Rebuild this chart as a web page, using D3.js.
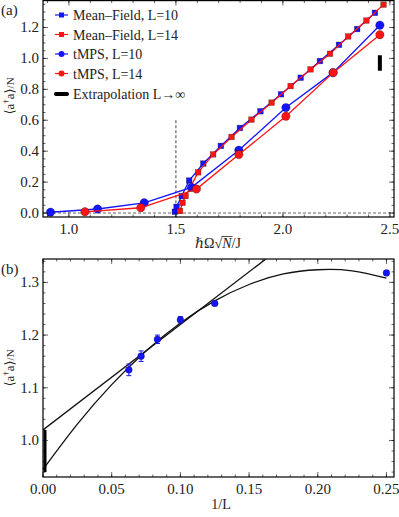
<!DOCTYPE html>
<html>
<head>
<meta charset="utf-8">
<script src="https://cdn.jsdelivr.net/npm/d3@7"></script>
<style>
  html, body { margin: 0; padding: 0; background: #fff; }
  svg { display: block; font-family: "Liberation Serif", "DejaVu Serif", serif; }
</style>
</head>
<body>
<div id="chart"></div>
<script>
// ---- panel (a) data ----
const mfL10X = [1.495, 1.503, 1.527, 1.562, 1.628, 1.710, 1.799, 1.895, 1.991, 2.083, 2.173, 2.262, 2.347, 2.430];
const mfL10Y = [0.008, 0.040, 0.110, 0.210, 0.320, 0.434, 0.550, 0.658, 0.768, 0.875, 0.983, 1.088, 1.190, 1.295];
const mfL14X = [1.519, 1.531, 1.545, 1.604, 1.674, 1.760, 1.853, 1.947, 2.036, 2.129, 2.220, 2.305, 2.390, 2.470];
const mfL14Y = [0.013, 0.066, 0.110, 0.263, 0.379, 0.492, 0.604, 0.714, 0.821, 0.929, 1.030, 1.142, 1.245, 1.348];
const tmpsL10X = [0.914, 1.134, 1.352, 1.573, 1.794, 2.014, 2.234, 2.453];
const tmpsL10Y = [0.005, 0.026, 0.066, 0.166, 0.406, 0.682, 0.908, 1.215];
const tmpsL14X = [1.075, 1.336, 1.596, 1.794, 2.014, 2.235, 2.453];
const tmpsL14Y = [0.008, 0.034, 0.155, 0.378, 0.626, 0.908, 1.153];
const extrapA = { x: 2.453, lo: 0.92, hi: 1.02 };
const criticalX = 1.5;
const criticalTop = 0.6;

const xTicksA = [1.0, 1.5, 2.0, 2.5];
const yTicksA = [0.0, 0.2, 0.4, 0.6, 0.8, 1.0, 1.2];

const legendLabels = ['Mean\u2013Field, L=10', 'Mean\u2013Field, L=14', 'tMPS, L=10', 'tMPS, L=14', 'Extrapolation L\u2192\u221E'];

// ---- panel (b) data ----
const invL = [0.0625, 0.0714, 0.0833, 0.1, 0.125, 0.25];
const occB = [1.134, 1.160, 1.192, 1.229, 1.260, 1.318];
const errB = [0.011, 0.010, 0.008, 0.006, 0.0, 0.0];
const linFitX = [0, 0.162];
const linFitY = [1.02, 1.344];
const quadFitX = [0, 0.025, 0.05, 0.075, 0.1, 0.125, 0.15, 0.175, 0.2, 0.225, 0.25];
const quadFitY = [0.945, 1.031, 1.106, 1.170, 1.223, 1.265, 1.296, 1.316, 1.324, 1.322, 1.308];
const extrapB = { x: 0.0, lo: 0.94, hi: 1.02 };

const xTicksB = [0.00, 0.05, 0.10, 0.15, 0.20, 0.25];
const yTicksB = [1.0, 1.1, 1.2, 1.3];

const BLUE = '#1414ff';
const RED = '#ff1414';

const width = 399;
const height = 517;

const svg = d3.select('#chart').append('svg')
    .attr('width', width)
    .attr('height', height);

const defs = svg.append('defs');

function zip(xs, ys) {
    return xs.map((x, i) => [x, ys[i]]);
}

function drawFrame(g, x, y, xMajor, yMajor, xMinorStep, yMinorStep, fmtX, fmtY) {
    const [x0, x1] = x.range();
    const [y0, y1] = y.range();

    const xMinor = d3.range(Math.ceil(x.domain()[0] / xMinorStep), Math.floor(x.domain()[1] / xMinorStep) + 1)
        .map((k) => k * xMinorStep);
    const yMinor = d3.range(Math.ceil(y.domain()[0] / yMinorStep), Math.floor(y.domain()[1] / yMinorStep) + 1)
        .map((k) => k * yMinorStep);

    const ticks = g.append('g').attr('stroke', '#000').attr('stroke-width', 0.6);

    xMinor.forEach((v) => {
        const px = x(v);
        ticks.append('line').attr('x1', px).attr('x2', px).attr('y1', y0).attr('y2', y0 - 2.5);
        ticks.append('line').attr('x1', px).attr('x2', px).attr('y1', y1).attr('y2', y1 + 2.5);
    });
    xMajor.forEach((v) => {
        const px = x(v);
        ticks.append('line').attr('x1', px).attr('x2', px).attr('y1', y0).attr('y2', y0 - 5);
        ticks.append('line').attr('x1', px).attr('x2', px).attr('y1', y1).attr('y2', y1 + 5);
    });
    yMinor.forEach((v) => {
        const py = y(v);
        ticks.append('line').attr('x1', x0).attr('x2', x0 + 2.5).attr('y1', py).attr('y2', py);
        ticks.append('line').attr('x1', x1).attr('x2', x1 - 2.5).attr('y1', py).attr('y2', py);
    });
    yMajor.forEach((v) => {
        const py = y(v);
        ticks.append('line').attr('x1', x0).attr('x2', x0 + 5).attr('y1', py).attr('y2', py);
        ticks.append('line').attr('x1', x1).attr('x2', x1 - 5).attr('y1', py).attr('y2', py);
    });

    g.append('rect')
        .attr('x', x0)
        .attr('y', y1)
        .attr('width', x1 - x0)
        .attr('height', y0 - y1)
        .attr('fill', 'none')
        .attr('stroke', '#000')
        .attr('stroke-width', 1.2);

    g.selectAll('.xlab')
        .data(xMajor)
        .enter()
        .append('text')
        .attr('x', (d) => x(d))
        .attr('y', y0 + 17)
        .attr('text-anchor', 'middle')
        .attr('font-size', 15)
        .attr('fill', '#222')
        .text(fmtX);

    g.selectAll('.ylab')
        .data(yMajor)
        .enter()
        .append('text')
        .attr('x', x0 - 4)
        .attr('y', (d) => y(d) + 5)
        .attr('text-anchor', 'end')
        .attr('font-size', 15)
        .attr('fill', '#222')
        .text(fmtY);
}

function yLabel(g, cx, cy) {
    const t = g.append('text')
        .attr('transform', `translate(${cx},${cy}) rotate(-90)`)
        .attr('text-anchor', 'middle')
        .attr('font-size', 13)
        .attr('fill', '#222');
    t.append('tspan').text('\u27E8a');
    t.append('tspan').attr('font-size', 9).attr('dy', -5).text('\u2020');
    t.append('tspan').attr('dy', 5).text('a\u27E9');
    t.append('tspan').attr('font-size', 11).text('/N');
}

function square(g, x, y, data, color, size) {
    g.selectAll(null)
        .data(data)
        .enter()
        .append('rect')
        .attr('x', (d) => x(d[0]) - size / 2)
        .attr('y', (d) => y(d[1]) - size / 2)
        .attr('width', size)
        .attr('height', size)
        .attr('fill', color)
        .attr('stroke', 'rgba(0,0,0,0.45)')
        .attr('stroke-width', 0.6);
}

function circle(g, x, y, data, color, r) {
    g.selectAll(null)
        .data(data)
        .enter()
        .append('circle')
        .attr('cx', (d) => x(d[0]))
        .attr('cy', (d) => y(d[1]))
        .attr('r', r)
        .attr('fill', color)
        .attr('stroke', 'rgba(0,0,0,0.45)')
        .attr('stroke-width', 0.6);
}

// ================= panel (a) =================
const xA = d3.scaleLinear().domain([0.879, 2.519]).range([43, 394]);
const yA = d3.scaleLinear().domain([-0.0258, 1.374]).range([217, 0.6]);

defs.append('clipPath').attr('id', 'clip-a')
    .append('rect').attr('x', 43).attr('y', 0.6).attr('width', 351).attr('height', 216.4);

const gA = svg.append('g');
const plotA = gA.append('g').attr('clip-path', 'url(#clip-a)');

plotA.append('line')
    .attr('x1', xA.range()[0]).attr('x2', xA.range()[1])
    .attr('y1', yA(0)).attr('y2', yA(0))
    .attr('stroke', '#666').attr('stroke-width', 1).attr('stroke-dasharray', '3,2');

plotA.append('line')
    .attr('x1', xA(criticalX)).attr('x2', xA(criticalX))
    .attr('y1', yA(criticalTop)).attr('y2', yA.range()[0])
    .attr('stroke', '#444').attr('stroke-width', 1).attr('stroke-dasharray', '3,2');

const lineA = d3.line().x((d) => xA(d[0])).y((d) => yA(d[1]));

const seriesA = [
    { data: zip(mfL10X, mfL10Y), color: BLUE, shape: 'square' },
    { data: zip(mfL14X, mfL14Y), color: RED, shape: 'square' },
    { data: zip(tmpsL10X, tmpsL10Y), color: BLUE, shape: 'circle' },
    { data: zip(tmpsL14X, tmpsL14Y), color: RED, shape: 'circle' },
];

seriesA.forEach((s) => {
    plotA.append('path')
        .attr('d', lineA(s.data))
        .attr('fill', 'none')
        .attr('stroke', s.color)
        .attr('stroke-width', 1.3);
    if (s.shape === 'square') {
        square(plotA, xA, yA, s.data, s.color, 5.6);
    } else {
        circle(plotA, xA, yA, s.data, s.color, 4.2);
    }
});

plotA.append('line')
    .attr('x1', xA(extrapA.x)).attr('x2', xA(extrapA.x))
    .attr('y1', yA(extrapA.lo)).attr('y2', yA(extrapA.hi))
    .attr('stroke', '#000').attr('stroke-width', 4);

drawFrame(gA, xA, yA, xTicksA, yTicksA, 0.1, 0.05, d3.format('.1f'), d3.format('.1f'));

// legend
const legend = gA.append('g');
const legendY = [15, 34.5, 54, 73.5, 94];
legendLabels.forEach((label, i) => {
    const row = legend.append('g').attr('transform', `translate(0, ${legendY[i]})`);
    if (i < 4) {
        const color = i % 2 === 0 ? BLUE : RED;
        row.append('line')
            .attr('x1', 55).attr('x2', 68).attr('y1', 0).attr('y2', 0)
            .attr('stroke', color).attr('stroke-width', 1.2);
        if (i < 2) {
            row.append('rect')
                .attr('x', 59).attr('y', -2.5).attr('width', 5).attr('height', 5)
                .attr('fill', color);
        } else {
            row.append('circle')
                .attr('cx', 61.5).attr('cy', 0).attr('r', 3)
                .attr('fill', color);
        }
    } else {
        row.append('line')
            .attr('x1', 56).attr('x2', 67).attr('y1', 0).attr('y2', 0)
            .attr('stroke', '#000').attr('stroke-width', 4).attr('stroke-linecap', 'round');
    }
    row.append('text')
        .attr('x', 73)
        .attr('y', 5)
        .attr('font-size', 14)
        .attr('fill', '#222')
        .text(label);
});

gA.append('text')
    .attr('x', 1).attr('y', 15)
    .attr('font-size', 15).attr('fill', '#222')
    .text('(a)');

yLabel(gA, 14, 96);

// x label: ħΩ√N/J with a bar over N
const xlabA = gA.append('text')
    .attr('x', 218).attr('y', 248)
    .attr('text-anchor', 'middle')
    .attr('font-size', 14)
    .attr('fill', '#222');
xlabA.append('tspan').text('\u210F\u03A9\u221A');
const nSpan = xlabA.append('tspan').attr('font-style', 'italic').text('N');
xlabA.append('tspan').text('/J');
const start = xlabA.node().getStartPositionOfChar(3);
const end = xlabA.node().getEndPositionOfChar(3);
const root = xlabA.node().getStartPositionOfChar(2);
gA.append('line')
    .attr('x1', root.x + 7).attr('x2', end.x + 1)
    .attr('y1', 236.5).attr('y2', 236.5)
    .attr('stroke', '#222').attr('stroke-width', 0.8);

// ================= panel (b) =================
const xB = d3.scaleLinear().domain([0, 0.2555]).range([43, 394]);
const yB = d3.scaleLinear().domain([0.9307, 1.3444]).range([477, 259]);

defs.append('clipPath').attr('id', 'clip-b')
    .append('rect').attr('x', 43).attr('y', 259).attr('width', 351).attr('height', 218);

const gB = svg.append('g');
const plotB = gB.append('g').attr('clip-path', 'url(#clip-b)');

const lineB = d3.line().x((d) => xB(d[0])).y((d) => yB(d[1]));

plotB.append('path')
    .attr('d', lineB(zip(linFitX, linFitY)))
    .attr('fill', 'none').attr('stroke', '#111').attr('stroke-width', 1.3);

plotB.append('path')
    .attr('d', lineB.curve(d3.curveNatural)(zip(quadFitX, quadFitY)))
    .attr('fill', 'none').attr('stroke', '#111').attr('stroke-width', 1.3);

plotB.append('line')
    .attr('x1', xB(extrapB.x) + 2).attr('x2', xB(extrapB.x) + 2)
    .attr('y1', yB(extrapB.lo)).attr('y2', yB(extrapB.hi))
    .attr('stroke', '#000').attr('stroke-width', 3);

const pointsB = invL.map((v, i) => ({ x: v, y: occB[i], e: errB[i] }));

const errG = plotB.append('g').attr('stroke', BLUE).attr('stroke-width', 1);
pointsB.filter((p) => p.e > 0).forEach((p) => {
    const px = xB(p.x);
    errG.append('line').attr('x1', px).attr('x2', px).attr('y1', yB(p.y - p.e)).attr('y2', yB(p.y + p.e));
    errG.append('line').attr('x1', px - 2.5).attr('x2', px + 2.5).attr('y1', yB(p.y - p.e)).attr('y2', yB(p.y - p.e));
    errG.append('line').attr('x1', px - 2.5).attr('x2', px + 2.5).attr('y1', yB(p.y + p.e)).attr('y2', yB(p.y + p.e));
});

circle(plotB, xB, yB, pointsB.map((p) => [p.x, p.y]), BLUE, 3.4);

drawFrame(gB, xB, yB, xTicksB, yTicksB, 0.01, 0.02, d3.format('.2f'), d3.format('.1f'));

gB.append('text')
    .attr('x', 1).attr('y', 274)
    .attr('font-size', 15).attr('fill', '#222')
    .text('(b)');

yLabel(gB, 14, 368);

gB.append('text')
    .attr('x', 221).attr('y', 509)
    .attr('text-anchor', 'middle')
    .attr('font-size', 14)
    .attr('fill', '#222')
    .text('1/L');
</script>
</body>
</html>
